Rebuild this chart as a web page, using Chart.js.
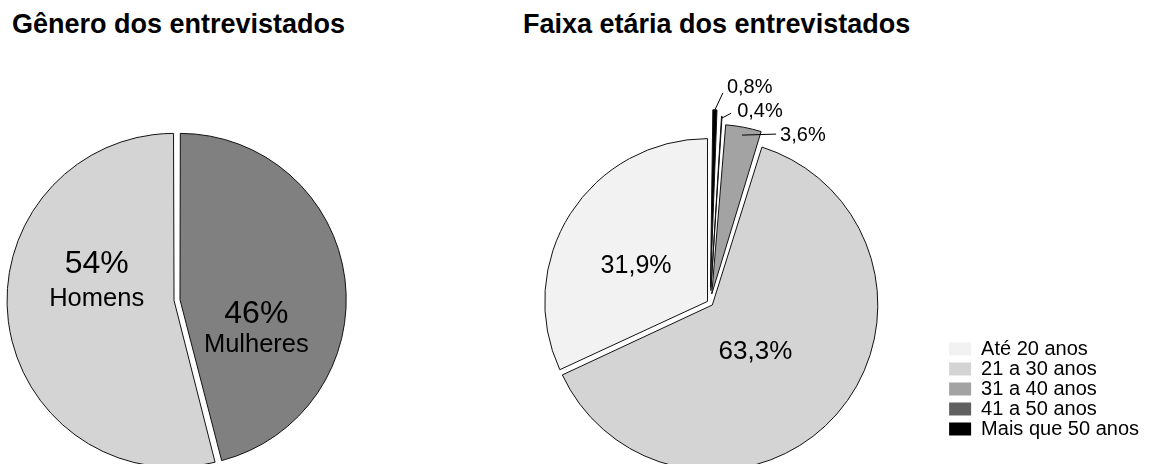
<!DOCTYPE html>
<html lang="pt-BR">
<head>
<meta charset="utf-8">
<title>Perfil dos entrevistados</title>
<script src="https://cdn.jsdelivr.net/npm/chart.js@4.4.1/dist/chart.umd.min.js"></script>
<style>
  html, body { margin: 0; padding: 0; background: #fff; width: 1149px; height: 464px; overflow: hidden; }
  body { position: relative; font-family: 'Liberation Sans', Arial, sans-serif; }
  .titulo { position: absolute; margin: 0; font-size: 27px; font-weight: bold; line-height: 27px; color: #000; white-space: nowrap; }
  #tGenero { left: 12px; top: 11px; }
  #tFaixa  { left: 523px; top: 11px; }
  .caixa { position: absolute; }
  #boxGenero { left: 0; top: 130px; width: 354px; height: 340px; }
  #boxFaixa  { left: 471px; top: 60px; width: 678px; height: 404px; }
</style>
</head>
<body>
<h2 class="titulo" id="tGenero">Gênero dos entrevistados</h2>
<h2 class="titulo" id="tFaixa">Faixa etária dos entrevistados</h2>
<div class="caixa" id="boxGenero"><canvas id="chartGenero"></canvas></div>
<div class="caixa" id="boxFaixa"><canvas id="chartFaixa"></canvas></div>

<script>
// ─── DADOS ────────────────────────────────────────────────────────────────────
const generoLabels = ['Mulheres', 'Homens'];
const generoValues = [46, 54];

const faixaLabels = ['Até 20 anos', '21 a 30 anos', '31 a 40 anos', '41 a 50 anos', 'Mais que 50 anos'];
const faixaValues = [31.9, 63.3, 3.6, 0.4, 0.8];

// ─── DEFAULTS ─────────────────────────────────────────────────────────────────
const FONT = "'Liberation Sans', Arial, sans-serif";
Chart.defaults.font.family = FONT;
Chart.defaults.color = '#000';

const fmtPct = (v, casas) =>
  v.toLocaleString('pt-BR', { minimumFractionDigits: casas, maximumFractionDigits: casas }) + '%';

// rótulos dentro das fatias, ou fora com linha guia
const rotulos = {
  id: 'rotulos',
  afterDatasetsDraw(chart, args, opts) {
    const ctx = chart.ctx;
    const meta = chart.getDatasetMeta(0);
    const labels = chart.data.labels;
    const values = chart.data.datasets[0].data;
    ctx.save();
    ctx.fillStyle = '#000';
    ctx.strokeStyle = '#000';
    ctx.lineWidth = 1;
    ctx.textBaseline = 'middle';
    meta.data.forEach((arc, i) => {
      const cfg = opts.itens[labels[i]];
      if (!cfg) return;
      // mesmo deslocamento que o ArcElement aplica ao desenhar
      const t = (arc.options.offset || 0) / 4;
      const fix = 1 - Math.sin(Math.min(Math.PI, arc.circumference));
      const raio = arc.outerRadius + t * fix;
      const mid = (arc.startAngle + arc.endAngle) / 2;
      const at = r => ({ x: arc.x + Math.cos(mid) * (t + r), y: arc.y + Math.sin(mid) * (t + r) });
      const texto = fmtPct(values[i], opts.casas);

      if (cfg.guia) {
        const p0 = at(raio - cfg.guia[0]);
        const p1 = { x: p0.x + cfg.guia[1], y: p0.y + cfg.guia[2] };
        ctx.beginPath(); ctx.moveTo(p0.x, p0.y); ctx.lineTo(p1.x, p1.y); ctx.stroke();
        ctx.font = cfg.fonte;
        ctx.textAlign = 'left';
        ctx.fillText(texto, p1.x + cfg.texto[0], p1.y + cfg.texto[1]);
      } else {
        const c = at(arc.outerRadius / 2);
        const x = c.x + cfg.desloc[0], y = c.y + cfg.desloc[1];
        const linhas = cfg.fonteNome ? [[texto, cfg.fonte], [labels[i], cfg.fonteNome]] : [[texto, cfg.fonte]];
        const y0 = y - (linhas.length - 1) * (cfg.passo || 0) / 2;
        ctx.textAlign = 'center';
        linhas.forEach(([s, f], k) => { ctx.font = f; ctx.fillText(s, x, y0 + k * (cfg.passo || 0)); });
      }
    });
    ctx.restore();
  }
};

// ─── GÊNERO ───────────────────────────────────────────────────────────────────
new Chart(document.getElementById('chartGenero'), {
  type: 'pie',
  data: {
    labels: generoLabels,
    datasets: [{
      data: generoValues,
      backgroundColor: ['#808080', '#d4d4d4'],
      borderColor: '#111',
      borderWidth: 1,
      offset: 12,
      radius: 164,
    }],
  },
  options: {
    responsive: true, maintainAspectRatio: false, animation: false,
    events: [],
    plugins: {
      legend: { display: false },
      tooltip: { enabled: false },
      rotulos: {
        casas: 0,
        itens: {
          'Homens':   { desloc: [4, -29], passo: 34, fonte: '32px ' + FONT, fonteNome: '25.5px ' + FONT },
          'Mulheres': { desloc: [-5, 40], passo: 31, fonte: '32px ' + FONT, fonteNome: '25.5px ' + FONT },
        },
      },
    },
  },
  plugins: [rotulos],
});

// ─── FAIXA ETÁRIA ─────────────────────────────────────────────────────────────
// sentido horário a partir do topo: da maior faixa para a menor
const faixaCores = ['#f2f2f2', '#d4d4d4', '#a3a3a3', '#606060', '#000000'];

new Chart(document.getElementById('chartFaixa'), {
  type: 'pie',
  data: {
    labels: [...faixaLabels].reverse(),
    datasets: [{
      data: [...faixaValues].reverse(),
      backgroundColor: [...faixaCores].reverse(),
      borderColor: '#111',
      borderWidth: 1,
      offset: [63, 50, 37, 12, 12],
      radius: 162.5,
    }],
  },
  options: {
    responsive: true, maintainAspectRatio: false, animation: false,
    events: [],
    layout: { padding: { top: 107, bottom: 25, right: 0 } },
    plugins: {
      tooltip: { enabled: false },
      legend: {
        position: 'right', align: 'end', reverse: true,
        labels: {
          boxWidth: 22, boxHeight: 13, padding: 0,
          font: { size: 20 }, color: '#000',
          generateLabels: ch => Chart.overrides.doughnut.plugins.legend.labels.generateLabels(ch)
            .map(it => ({ ...it, lineWidth: 0 })),
        },
      },
      rotulos: {
        casas: 1,
        itens: {
          'Até 20 anos':      { desloc: [-3, 8],  fonte: '25px ' + FONT },
          '21 a 30 anos':     { desloc: [-18, -7], fonte: '26px ' + FONT },
          '31 a 40 anos':     { guia: [8, 34, -1],  texto: [4, 1],  fonte: '20px ' + FONT },
          '41 a 50 anos':     { guia: [2, 9.5, -5], texto: [6, -2], fonte: '20px ' + FONT },
          'Mais que 50 anos': { guia: [0, 8, -17],  texto: [4, -5], fonte: '20px ' + FONT },
        },
      },
    },
  },
  plugins: [rotulos],
});
</script>
</body>
</html>
